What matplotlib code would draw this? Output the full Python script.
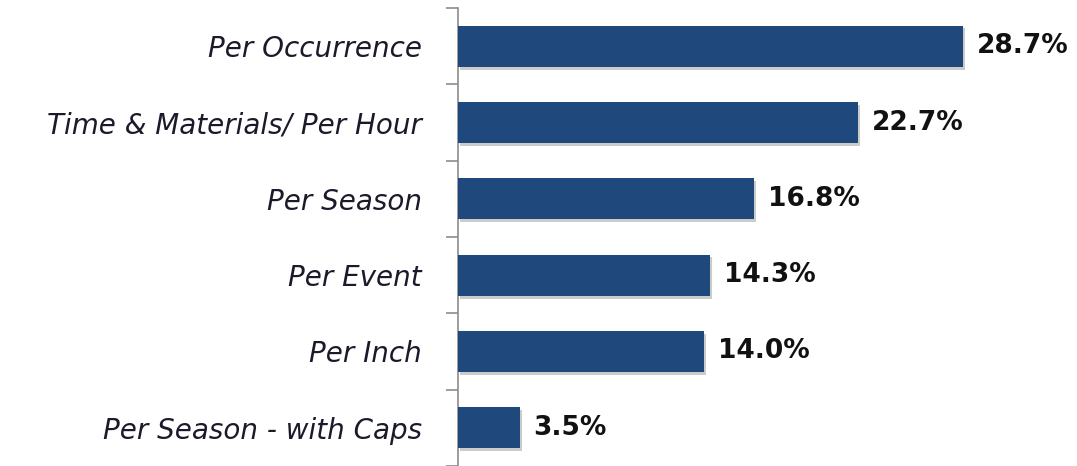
import matplotlib.pyplot as plt
import matplotlib.patheffects as pe
import numpy as np

categories = ['Per Occurrence', 'Time & Materials/ Per Hour', 'Per Season',
              'Per Event', 'Per Inch', 'Per Season - with Caps']
values = [28.7, 22.7, 16.8, 14.3, 14.0, 3.5]
labels = ['28.7%', '22.7%', '16.8%', '14.3%', '14.0%', '3.5%']

fig = plt.figure(figsize=(10.77, 4.66), dpi=100)
ax = fig.add_axes([458 / 1077, 0.0, 1 - 458 / 1077, 1 - 8 / 466])

y = np.arange(len(categories))
bars = ax.barh(y, values, height=0.54, color='#1F497D', zorder=3)
for b in bars:
    b.set_path_effects([pe.SimplePatchShadow(offset=(1.5, -2), shadow_rgbFace='#999999', alpha=0.5), pe.Normal()])

# value labels just right of each bar
for yi, v, lab in zip(y, values, labels):
    ax.annotate(lab, (v, yi), xytext=(10, 0), textcoords='offset points',
                va='center', ha='left', fontsize=19, fontweight='bold', color='#111111')

ax.set_ylim(len(categories) - 0.5, -0.5)
ax.set_xlim(0, 35.17)

ax.set_yticks(y)
ax.set_yticklabels(categories, fontsize=20, style='italic', color='#1a1a2a')
ax.set_yticks(np.arange(len(categories) + 1) - 0.5, minor=True)
ax.tick_params(axis='y', which='major', length=0, pad=26)
ax.tick_params(axis='y', which='minor', length=9, width=1.2, color='#8c8c8c')
ax.set_xticks([])

for s in ['top', 'right', 'bottom']:
    ax.spines[s].set_visible(False)
ax.spines['left'].set_color('#8c8c8c')
ax.spines['left'].set_linewidth(1.2)

fig.savefig('out.png', dpi=100)
